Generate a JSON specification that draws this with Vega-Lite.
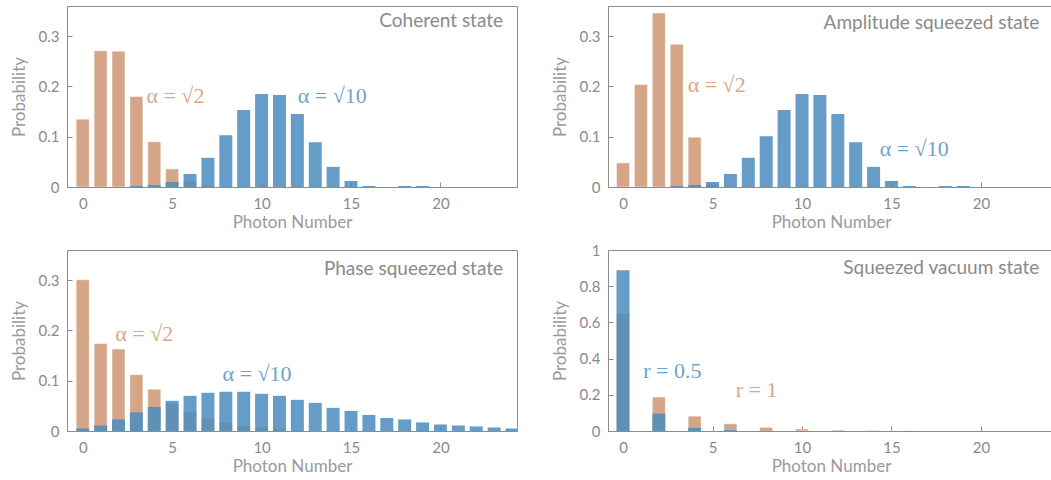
{
  "$schema": "https://vega.github.io/schema/vega-lite/v6.json",
  "padding": {"left": 9, "top": 5, "right": 0, "bottom": 0},
  "config": {
    "view": {"stroke": "#8c8c8c", "strokeWidth": 1},
    "axis": {
      "grid": false,
      "labelFont": "Lato", "labelFontSize": 15, "labelColor": "#8a8a8a",
      "titleFont": "Lato", "titleFontSize": 17, "titleColor": "#9a9a9a", "titleFontWeight": "normal",
      "domainColor": "#8c8c8c", "tickColor": "#8c8c8c", "tickSize": -5, "zindex": 1
    },
    "axisX": {"labelPadding": 14, "titlePadding": 3},
    "axisY": {"labelPadding": 13, "titlePadding": 10}
  },
  "datasets": {
    "bars": [
      {"panel": "coh", "s": "a", "n": 0, "p": 0.135},
      {"panel": "coh", "s": "a", "n": 1, "p": 0.271},
      {"panel": "coh", "s": "a", "n": 2, "p": 0.270},
      {"panel": "coh", "s": "a", "n": 3, "p": 0.180},
      {"panel": "coh", "s": "a", "n": 4, "p": 0.090},
      {"panel": "coh", "s": "a", "n": 5, "p": 0.036},
      {"panel": "coh", "s": "a", "n": 6, "p": 0.012},
      {"panel": "coh", "s": "a", "n": 7, "p": 0.003},
      {"panel": "coh", "s": "a", "n": 8, "p": 0.001},
      {"panel": "coh", "s": "b", "n": 3, "p": 0.002},
      {"panel": "coh", "s": "b", "n": 4, "p": 0.004},
      {"panel": "coh", "s": "b", "n": 5, "p": 0.010},
      {"panel": "coh", "s": "b", "n": 6, "p": 0.026},
      {"panel": "coh", "s": "b", "n": 7, "p": 0.058},
      {"panel": "coh", "s": "b", "n": 8, "p": 0.103},
      {"panel": "coh", "s": "b", "n": 9, "p": 0.153},
      {"panel": "coh", "s": "b", "n": 10, "p": 0.185},
      {"panel": "coh", "s": "b", "n": 11, "p": 0.183},
      {"panel": "coh", "s": "b", "n": 12, "p": 0.145},
      {"panel": "coh", "s": "b", "n": 13, "p": 0.089},
      {"panel": "coh", "s": "b", "n": 14, "p": 0.040},
      {"panel": "coh", "s": "b", "n": 15, "p": 0.012},
      {"panel": "coh", "s": "b", "n": 16, "p": 0.002},
      {"panel": "coh", "s": "b", "n": 18, "p": 0.002},
      {"panel": "coh", "s": "b", "n": 19, "p": 0.002},
      {"panel": "amp", "s": "a", "n": 0, "p": 0.048},
      {"panel": "amp", "s": "a", "n": 1, "p": 0.204},
      {"panel": "amp", "s": "a", "n": 2, "p": 0.346},
      {"panel": "amp", "s": "a", "n": 3, "p": 0.284},
      {"panel": "amp", "s": "a", "n": 4, "p": 0.099},
      {"panel": "amp", "s": "a", "n": 5, "p": 0.005},
      {"panel": "amp", "s": "b", "n": 3, "p": 0.002},
      {"panel": "amp", "s": "b", "n": 4, "p": 0.004},
      {"panel": "amp", "s": "b", "n": 5, "p": 0.010},
      {"panel": "amp", "s": "b", "n": 6, "p": 0.026},
      {"panel": "amp", "s": "b", "n": 7, "p": 0.058},
      {"panel": "amp", "s": "b", "n": 8, "p": 0.101},
      {"panel": "amp", "s": "b", "n": 9, "p": 0.153},
      {"panel": "amp", "s": "b", "n": 10, "p": 0.185},
      {"panel": "amp", "s": "b", "n": 11, "p": 0.183},
      {"panel": "amp", "s": "b", "n": 12, "p": 0.145},
      {"panel": "amp", "s": "b", "n": 13, "p": 0.089},
      {"panel": "amp", "s": "b", "n": 14, "p": 0.040},
      {"panel": "amp", "s": "b", "n": 15, "p": 0.012},
      {"panel": "amp", "s": "b", "n": 16, "p": 0.002},
      {"panel": "amp", "s": "b", "n": 18, "p": 0.002},
      {"panel": "amp", "s": "b", "n": 19, "p": 0.002},
      {"panel": "ph", "s": "a", "n": 0, "p": 0.301},
      {"panel": "ph", "s": "a", "n": 1, "p": 0.174},
      {"panel": "ph", "s": "a", "n": 2, "p": 0.163},
      {"panel": "ph", "s": "a", "n": 3, "p": 0.112},
      {"panel": "ph", "s": "a", "n": 4, "p": 0.083},
      {"panel": "ph", "s": "a", "n": 5, "p": 0.055},
      {"panel": "ph", "s": "a", "n": 6, "p": 0.038},
      {"panel": "ph", "s": "a", "n": 7, "p": 0.025},
      {"panel": "ph", "s": "a", "n": 8, "p": 0.017},
      {"panel": "ph", "s": "a", "n": 9, "p": 0.010},
      {"panel": "ph", "s": "a", "n": 10, "p": 0.007},
      {"panel": "ph", "s": "a", "n": 11, "p": 0.004},
      {"panel": "ph", "s": "b", "n": 0, "p": 0.005},
      {"panel": "ph", "s": "b", "n": 1, "p": 0.011},
      {"panel": "ph", "s": "b", "n": 2, "p": 0.023},
      {"panel": "ph", "s": "b", "n": 3, "p": 0.037},
      {"panel": "ph", "s": "b", "n": 4, "p": 0.048},
      {"panel": "ph", "s": "b", "n": 5, "p": 0.060},
      {"panel": "ph", "s": "b", "n": 6, "p": 0.070},
      {"panel": "ph", "s": "b", "n": 7, "p": 0.076},
      {"panel": "ph", "s": "b", "n": 8, "p": 0.078},
      {"panel": "ph", "s": "b", "n": 9, "p": 0.078},
      {"panel": "ph", "s": "b", "n": 10, "p": 0.074},
      {"panel": "ph", "s": "b", "n": 11, "p": 0.070},
      {"panel": "ph", "s": "b", "n": 12, "p": 0.062},
      {"panel": "ph", "s": "b", "n": 13, "p": 0.056},
      {"panel": "ph", "s": "b", "n": 14, "p": 0.046},
      {"panel": "ph", "s": "b", "n": 15, "p": 0.040},
      {"panel": "ph", "s": "b", "n": 16, "p": 0.032},
      {"panel": "ph", "s": "b", "n": 17, "p": 0.026},
      {"panel": "ph", "s": "b", "n": 18, "p": 0.023},
      {"panel": "ph", "s": "b", "n": 19, "p": 0.017},
      {"panel": "ph", "s": "b", "n": 20, "p": 0.013},
      {"panel": "ph", "s": "b", "n": 21, "p": 0.011},
      {"panel": "ph", "s": "b", "n": 22, "p": 0.009},
      {"panel": "ph", "s": "b", "n": 23, "p": 0.007},
      {"panel": "ph", "s": "b", "n": 24, "p": 0.005},
      {"panel": "sv", "s": "a", "n": 0, "p": 0.648},
      {"panel": "sv", "s": "a", "n": 2, "p": 0.188},
      {"panel": "sv", "s": "a", "n": 4, "p": 0.082},
      {"panel": "sv", "s": "a", "n": 6, "p": 0.040},
      {"panel": "sv", "s": "a", "n": 8, "p": 0.020},
      {"panel": "sv", "s": "a", "n": 10, "p": 0.011},
      {"panel": "sv", "s": "a", "n": 12, "p": 0.0055},
      {"panel": "sv", "s": "a", "n": 14, "p": 0.003},
      {"panel": "sv", "s": "a", "n": 16, "p": 0.0016},
      {"panel": "sv", "s": "b", "n": 0, "p": 0.888},
      {"panel": "sv", "s": "b", "n": 2, "p": 0.096},
      {"panel": "sv", "s": "b", "n": 4, "p": 0.017},
      {"panel": "sv", "s": "b", "n": 6, "p": 0.005},
      {"panel": "sv", "s": "b", "n": 8, "p": 0.001}
    ],
    "notes": [
      {"panel": "coh", "s": "a", "label": "α = √2", "n": 3.56, "p": 0.181},
      {"panel": "coh", "s": "b", "label": "α = √10", "n": 12.02, "p": 0.181},
      {"panel": "coh", "s": "t", "label": "Coherent state", "n": 23.5, "p": 0.33},
      {"panel": "amp", "s": "a", "label": "α = √2", "n": 3.61, "p": 0.202},
      {"panel": "amp", "s": "b", "label": "α = √10", "n": 14.34, "p": 0.076},
      {"panel": "amp", "s": "t", "label": "Amplitude squeezed state", "n": 23.26, "p": 0.326},
      {"panel": "ph", "s": "a", "label": "α = √2", "n": 1.82, "p": 0.193},
      {"panel": "ph", "s": "b", "label": "α = √10", "n": 7.82, "p": 0.114},
      {"panel": "ph", "s": "t", "label": "Phase squeezed state", "n": 23.5, "p": 0.323},
      {"panel": "sv", "s": "b", "label": "r = 0.5", "n": 1.13, "p": 0.332},
      {"panel": "sv", "s": "a", "label": "r = 1", "n": 6.3, "p": 0.228},
      {"panel": "sv", "s": "t", "label": "Squeezed vacuum state", "n": 23.26, "p": 0.9}
    ]
  },
  "resolve": {"scale": {"x": "independent", "y": "independent"}},
  "spacing": 11,
  "vconcat": [
    {
      "resolve": {"scale": {"x": "independent", "y": "independent"}},
      "spacing": 32,
      "hconcat": [
        {
          "width": 450, "height": 181,
          "encoding": {
            "x": {"field": "n", "type": "quantitative", "scale": {"domain": [-0.6, 24], "nice": false, "zero": false}, "axis": {"title": "Photon Number", "values": [0, 5, 10, 15, 20]}},
            "y": {"field": "p", "type": "quantitative", "scale": {"domain": [0, 0.36], "nice": false}, "axis": {"title": "Probability", "values": [0, 0.1, 0.2, 0.3], "format": "~g"}}
          },
          "layer": [
            {"data": {"name": "bars"}, "transform": [{"filter": "datum.panel === 'coh' && datum.s === 'a'"}], "mark": {"type": "bar", "size": 13, "color": "#D4A687", "stroke": "#ffffff", "strokeOpacity": 0.45, "strokeWidth": 1, "clip": true}},
            {"data": {"name": "bars"}, "transform": [{"filter": "datum.panel === 'coh' && datum.s === 'b'"}], "mark": {"type": "bar", "size": 13, "color": "#4A8CBE", "opacity": 0.85, "clip": true}},
            {"data": {"name": "notes"}, "transform": [{"filter": "datum.panel === 'coh' && datum.s !== 't'"}], "mark": {"type": "text", "align": "left", "baseline": "middle", "font": "Liberation Serif", "fontSize": 22}, "encoding": {"text": {"field": "label"}, "color": {"field": "s", "type": "nominal", "scale": {"domain": ["a", "b"], "range": ["#D9A78A", "#6DA3CB"]}, "legend": null}}},
            {"data": {"name": "notes"}, "transform": [{"filter": "datum.panel === 'coh' && datum.s === 't'"}], "mark": {"type": "text", "align": "right", "baseline": "middle", "font": "Lato", "fontSize": 19, "color": "#8a8a8a"}, "encoding": {"text": {"field": "label"}}}
          ]
        },
        {
          "width": 446, "height": 181,
          "encoding": {
            "x": {"field": "n", "type": "quantitative", "scale": {"domain": [-0.56, 23.8], "nice": false, "zero": false}, "axis": {"title": "Photon Number", "values": [0, 5, 10, 15, 20]}},
            "y": {"field": "p", "type": "quantitative", "scale": {"domain": [0, 0.36], "nice": false}, "axis": {"title": "Probability", "values": [0, 0.1, 0.2, 0.3], "format": "~g"}}
          },
          "layer": [
            {"data": {"name": "bars"}, "transform": [{"filter": "datum.panel === 'amp' && datum.s === 'a'"}], "mark": {"type": "bar", "size": 13, "color": "#D4A687", "stroke": "#ffffff", "strokeOpacity": 0.45, "strokeWidth": 1, "clip": true}},
            {"data": {"name": "bars"}, "transform": [{"filter": "datum.panel === 'amp' && datum.s === 'b'"}], "mark": {"type": "bar", "size": 13, "color": "#4A8CBE", "opacity": 0.85, "clip": true}},
            {"data": {"name": "notes"}, "transform": [{"filter": "datum.panel === 'amp' && datum.s !== 't'"}], "mark": {"type": "text", "align": "left", "baseline": "middle", "font": "Liberation Serif", "fontSize": 22}, "encoding": {"text": {"field": "label"}, "color": {"field": "s", "type": "nominal", "scale": {"domain": ["a", "b"], "range": ["#D9A78A", "#6DA3CB"]}, "legend": null}}},
            {"data": {"name": "notes"}, "transform": [{"filter": "datum.panel === 'amp' && datum.s === 't'"}], "mark": {"type": "text", "align": "right", "baseline": "middle", "font": "Lato", "fontSize": 19, "color": "#8a8a8a"}, "encoding": {"text": {"field": "label"}}}
          ]
        }
      ]
    },
    {
      "resolve": {"scale": {"x": "independent", "y": "independent"}},
      "spacing": 32,
      "hconcat": [
        {
          "width": 450, "height": 181,
          "encoding": {
            "x": {"field": "n", "type": "quantitative", "scale": {"domain": [-0.6, 24], "nice": false, "zero": false}, "axis": {"title": "Photon Number", "values": [0, 5, 10, 15, 20]}},
            "y": {"field": "p", "type": "quantitative", "scale": {"domain": [0, 0.36], "nice": false}, "axis": {"title": "Probability", "values": [0, 0.1, 0.2, 0.3], "format": "~g"}}
          },
          "layer": [
            {"data": {"name": "bars"}, "transform": [{"filter": "datum.panel === 'ph' && datum.s === 'a'"}], "mark": {"type": "bar", "size": 13, "color": "#D4A687", "stroke": "#ffffff", "strokeOpacity": 0.45, "strokeWidth": 1, "clip": true}},
            {"data": {"name": "bars"}, "transform": [{"filter": "datum.panel === 'ph' && datum.s === 'b'"}], "mark": {"type": "bar", "size": 13, "color": "#4A8CBE", "opacity": 0.85, "clip": true}},
            {"data": {"name": "notes"}, "transform": [{"filter": "datum.panel === 'ph' && datum.s !== 't'"}], "mark": {"type": "text", "align": "left", "baseline": "middle", "font": "Liberation Serif", "fontSize": 22}, "encoding": {"text": {"field": "label"}, "color": {"field": "s", "type": "nominal", "scale": {"domain": ["a", "b"], "range": ["#D9A78A", "#6DA3CB"]}, "legend": null}}},
            {"data": {"name": "notes"}, "transform": [{"filter": "datum.panel === 'ph' && datum.s === 't'"}], "mark": {"type": "text", "align": "right", "baseline": "middle", "font": "Lato", "fontSize": 19, "color": "#8a8a8a"}, "encoding": {"text": {"field": "label"}}}
          ]
        },
        {
          "width": 446, "height": 181,
          "encoding": {
            "x": {"field": "n", "type": "quantitative", "scale": {"domain": [-0.56, 23.8], "nice": false, "zero": false}, "axis": {"title": "Photon Number", "values": [0, 5, 10, 15, 20]}},
            "y": {"field": "p", "type": "quantitative", "scale": {"domain": [0, 1], "nice": false}, "axis": {"title": "Probability", "values": [0, 0.2, 0.4, 0.6, 0.8, 1], "format": "~g"}}
          },
          "layer": [
            {"data": {"name": "bars"}, "transform": [{"filter": "datum.panel === 'sv' && datum.s === 'a'"}], "mark": {"type": "bar", "size": 13, "color": "#D4A687", "stroke": "#ffffff", "strokeOpacity": 0.45, "strokeWidth": 1, "clip": true}},
            {"data": {"name": "bars"}, "transform": [{"filter": "datum.panel === 'sv' && datum.s === 'b'"}], "mark": {"type": "bar", "size": 13, "color": "#4A8CBE", "opacity": 0.85, "clip": true}},
            {"data": {"name": "notes"}, "transform": [{"filter": "datum.panel === 'sv' && datum.s !== 't'"}], "mark": {"type": "text", "align": "left", "baseline": "middle", "font": "Liberation Serif", "fontSize": 22}, "encoding": {"text": {"field": "label"}, "color": {"field": "s", "type": "nominal", "scale": {"domain": ["a", "b"], "range": ["#D9A78A", "#6DA3CB"]}, "legend": null}}},
            {"data": {"name": "notes"}, "transform": [{"filter": "datum.panel === 'sv' && datum.s === 't'"}], "mark": {"type": "text", "align": "right", "baseline": "middle", "font": "Lato", "fontSize": 19, "color": "#8a8a8a"}, "encoding": {"text": {"field": "label"}}}
          ]
        }
      ]
    }
  ]
}
